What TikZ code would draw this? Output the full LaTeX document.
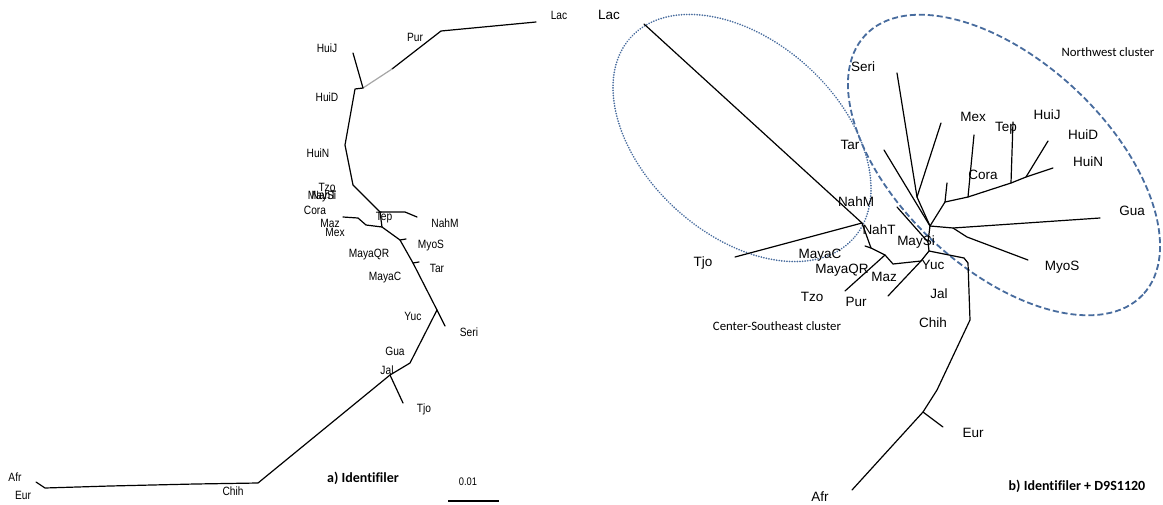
\documentclass[tikz,border=0pt]{standalone}
\usepackage{fontspec}
\setmainfont{Liberation Sans}
\newfontfamily\narrowfont[FakeStretch=0.85]{Liberation Sans}
\newfontfamily\calfont[Ligatures=CommonOff]{Carlito}
\definecolor{ellblue}{RGB}{72,108,158}
\begin{document}
\begin{tikzpicture}[x=1pt,y=-1pt,
  br/.style={line width=1.2pt, line join=round, line cap=round, black},
  lt/.style={font=\narrowfont\fontsize{12}{12}\selectfont, inner sep=0pt},
  rt/.style={font=\fontsize{13.5}{13.5}\selectfont, inner sep=0pt},
  clus/.style={font=\calfont\fontsize{12.8}{12.8}\selectfont, inner sep=0pt},
  ttl/.style={font=\calfont\bfseries\fontsize{14}{14}\selectfont, inner sep=0pt},
  dotell/.style={ellblue, line width=1.8pt, line cap=round, dash pattern=on 0.1pt off 2.5pt},
  dashell/.style={ellblue, line width=1.8pt, dash pattern=on 6pt off 3pt}]
\fill[white] (0,0) rectangle (1163,504);
\useasboundingbox (0,0) rectangle (1163,504);

% ================= a) left tree =================
\coordinate (aLacT) at (536,22);
\coordinate (aPur) at (441,31);
\coordinate (aG) at (392,69);
\coordinate (aHd) at (363,88);
\coordinate (aHjT) at (353,53);
\coordinate (aHd2) at (355,89);
\coordinate (aHn) at (345,145);
\coordinate (a1) at (350,170);
\coordinate (a2) at (353,185);
\coordinate (aTep) at (380,212);
\coordinate (aNm1) at (405,212);
\coordinate (aNmT) at (417,217);
\coordinate (a3) at (382,227);
\coordinate (aMz1) at (366,225);
\coordinate (aMz2) at (358,218);
\coordinate (aMzT) at (343,217);
\coordinate (aMy) at (400,240);
\coordinate (aMyT) at (406,239);
\coordinate (aTa) at (413,263);
\coordinate (aTaT) at (419,262);
\coordinate (aYuc) at (437,310);
\coordinate (aSeriT) at (445,326);
\coordinate (aGua) at (410,363);
\coordinate (aJal) at (390,375);
\coordinate (aTjoT) at (403,403);
\coordinate (aChih) at (258,483);
\coordinate (ab1) at (195,484);
\coordinate (ab2) at (152,485);
\coordinate (ab3) at (110,486);
\coordinate (aEur) at (45,488);
\coordinate (aAfrT) at (36,482);

\draw[br] (aLacT) -- (aPur) -- (aG);
\draw[br, gray!70] (aG) -- (aHd);
\draw[br] (aHjT) -- (aHd);
\draw[br] (aHd) -- (aHd2) -- (aHn) -- (a1) -- (a2) -- (aTep) -- (a3) -- (aMy) -- (aTa) -- (aYuc) -- (aGua) -- (aJal) -- (aChih) -- (ab1) -- (ab2) -- (ab3) -- (aEur) -- (aAfrT);
\draw[br] (aTep) -- (aNm1) -- (aNmT);
\draw[br] (a3) -- (aMz1) -- (aMz2) -- (aMzT);
\draw[br] (aMy) -- (aMyT);
\draw[br] (aTa) -- (aTaT);
\draw[br] (aYuc) -- (aSeriT);
\draw[br] (aJal) -- (aTjoT);

\node[lt] (laLac) at (559,15) {Lac};
\node[lt] (laPur) at (415,37) {Pur};
\node[lt] (laHuiJ) at (327,48) {HuiJ};
\node[lt] (laHuiD) at (327,97) {HuiD};
\node[lt] (laHuiN) at (318,153) {HuiN};
\node[lt] (laTzo) at (327,187) {Tzo};
\node[lt] (laMaySi) at (322,196) {MaySi};
\node[lt] (laNahT) at (324,195) {NahT};
\node[lt] (laCora) at (315,210) {Cora};
\node[lt] (laTep) at (384,218) {Tep};
\node[lt] (laNahM) at (445,223) {NahM};
\node[lt] (laMaz) at (330,223) {Maz};
\node[lt] (laMex) at (335,232) {Mex};
\node[lt] (laMyoS) at (431,246) {MyoS};
\node[lt] (laMayaQR) at (369,255) {MayaQR};
\node[lt] (laTar) at (437,268) {Tar};
\node[lt] (laMayaC) at (385,278) {MayaC};
\node[lt] (laYuc) at (413,316) {Yuc};
\node[lt] (laSeri) at (469,332) {Seri};
\node[lt] (laGua) at (395,351) {Gua};
\node[lt] (laJal) at (387,370) {Jal};
\node[lt] (laTjo) at (424,409) {Tjo};
\node[lt] (laChih) at (233,491) {Chih};
\node[lt] (laAfr) at (15,477) {Afr};
\node[lt] (laEur) at (23,495) {Eur};
\node[ttl] (laTitle) at (363,478) {a) Identifiler};
\node[lt, font=\narrowfont\fontsize{11}{11}\selectfont] (laScale) at (468,482) {0.01};
\coordinate (sbL) at (448,501);
\coordinate (sbR) at (499,501);
\draw[br, line cap=butt] (sbL) -- (sbR);

% ================= b) right tree =================
% ellipses
\begin{scope}[shift={(742,138)}, rotate=-42]
  \draw[dotell] (0,0) ellipse [x radius=150, y radius=97];
\end{scope}
\begin{scope}[shift={(1004,165)}, rotate=-43]
  \draw[dashell] (0,0) ellipse [x radius=190, y radius=104];
\end{scope}

\coordinate (bLacT) at (644,24);
\coordinate (bNahT) at (862,223);
\coordinate (bTjoT) at (735,257);
\coordinate (bA) at (871,248);
\coordinate (bMcT) at (865,246);
\coordinate (bB) at (885,255);
\coordinate (bPurT) at (845,291);
\coordinate (bB2) at (893,264);
\coordinate (bD) at (921,261);
\coordinate (bMazT) at (888,296);
\coordinate (bY) at (929,251);
\coordinate (bM) at (928,242);
\coordinate (bMsT) at (897,207);
\coordinate (bH) at (930,226);
\coordinate (bS) at (917,197);
\coordinate (bSeriT) at (897,73);
\coordinate (bS2T) at (941,123);
\coordinate (bTarT) at (884,150);
\coordinate (bGuaT) at (1100,218);
\coordinate (bG1) at (953,228);
\coordinate (bG2) at (967,237);
\coordinate (bMyoT) at (1028,260);
\coordinate (bC1) at (945,202);
\coordinate (bC1T) at (947,183);
\coordinate (bC2) at (968,197);
\coordinate (bMexT) at (974,135);
\coordinate (bC3) at (1011,183);
\coordinate (bTepT) at (1013,122);
\coordinate (bC4) at (1026,177);
\coordinate (bHdT) at (1048,141);
\coordinate (bHnT) at (1053,168);
\coordinate (bR1) at (964,258);
\coordinate (bR2) at (968,263);
\coordinate (bR3) at (970,320);
\coordinate (bR4) at (937,390);
\coordinate (bEur) at (923,412);
\coordinate (bEurT) at (943,427);
\coordinate (bAfrT) at (852,490);

\draw[br] (bLacT) -- (bNahT) -- (bTjoT);
\draw[br] (bNahT) -- (bA) -- (bB) -- (bB2) -- (bD) -- (bY) -- (bM) -- (bH);
\draw[br] (bA) -- (bMcT);
\draw[br] (bB) -- (bPurT);
\draw[br] (bD) -- (bMazT);
\draw[br] (bM) -- (bMsT);
\draw[br] (bH) -- (bS) -- (bSeriT);
\draw[br] (bS) -- (bS2T);
\draw[br] (bH) -- (bTarT);
\draw[br] (bH) -- (bG1) -- (bGuaT);
\draw[br] (bG1) -- (bG2) -- (bMyoT);
\draw[br] (bH) -- (bC1) -- (bC2) -- (bC3) -- (bC4) -- (bHnT);
\draw[br] (bC1) -- (bC1T);
\draw[br] (bC2) -- (bMexT);
\draw[br] (bC3) -- (bTepT);
\draw[br] (bC4) -- (bHdT);
\draw[br] (bY) -- (bR1) -- (bR2) -- (bR3) -- (bR4) -- (bEur) -- (bAfrT);
\draw[br] (bEur) -- (bEurT);

\node[rt] (lbLac) at (609,15) {Lac};
\node[rt] (lbSeri) at (863,67) {Seri};
\node[rt] (lbTar) at (850,145) {Tar};
\node[rt] (lbNahM) at (856,202) {NahM};
\node[rt] (lbNahT) at (879,230) {NahT};
\node[rt] (lbMaySi) at (916,242) {MaySi};
\node[rt] (lbMayaC) at (820,255) {MayaC};
\node[rt] (lbMayaQR) at (842,270) {MayaQR};
\node[rt] (lbMaz) at (884,277) {Maz};
\node[rt] (lbYuc) at (933,265) {Yuc};
\node[rt] (lbTzo) at (812,297) {Tzo};
\node[rt] (lbPur) at (856,302) {Pur};
\node[rt] (lbJal) at (939,294) {Jal};
\node[rt] (lbChih) at (933,323) {Chih};
\node[rt] (lbTjo) at (703,263) {Tjo};
\node[rt] (lbMex) at (973,117) {Mex};
\node[rt] (lbTep) at (1006,128) {Tep};
\node[rt] (lbHuiJ) at (1047,115) {HuiJ};
\node[rt] (lbHuiD) at (1083,135) {HuiD};
\node[rt] (lbHuiN) at (1088,162) {HuiN};
\node[rt] (lbCora) at (983,175) {Cora};
\node[rt] (lbGua) at (1132,211) {Gua};
\node[rt] (lbMyoS) at (1062,267) {MyoS};
\node[rt] (lbEur) at (973,433) {Eur};
\node[rt] (lbAfr) at (820,497) {Afr};
\node[clus] (lbNW) at (1108,52) {Northwest cluster};
\node[clus] (lbCSE) at (777,326) {Center-Southeast cluster};
\node[ttl] (lbTitle) at (1077,486) {b) Identifiler + D9S1120};
\end{tikzpicture}
\end{document}
